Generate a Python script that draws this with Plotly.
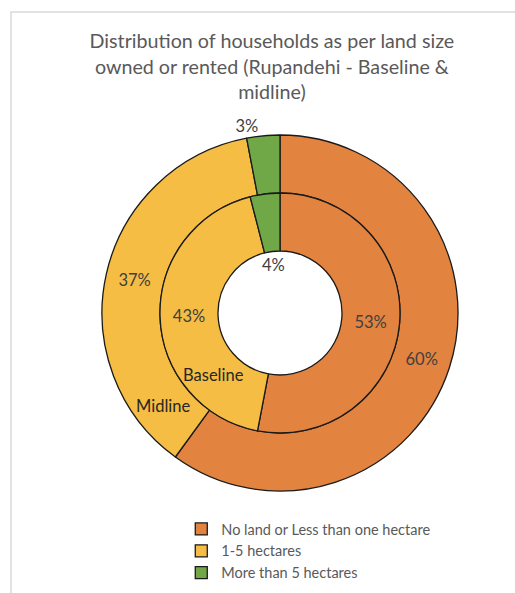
import plotly.graph_objects as go
import math

W, H = 515, 593

categories = ["No land or Less than one hectare", "1-5 hectares", "More than 5 hectares"]
midline = [60, 37, 3]
baseline = [53, 43, 4]
series_names = ["Baseline", "Midline"]
colors = ["#E2833F", "#F5BD43", "#71A847"]

title = ("Distribution of households as per land size<br>"
         "owned or rented (Rupandehi - Baseline &<br>midline)")

FONT = "Lato"
TXT = "#595959"
VAL = "#404040"

# ring geometry in pixels
cx, cy = 280, 313
r_out, r_mid, r_hole = 178, 120, 62


def dom(r):
    return dict(x=[(cx - r) / W, (cx + r) / W],
                y=[(H - cy - r) / H, (H - cy + r) / H])


line = dict(color="#1a1a1a", width=1.3)

fig = go.Figure()
fig.add_trace(go.Pie(
    labels=categories, values=midline, name=series_names[1],
    domain=dom(r_out), hole=r_mid / r_out, sort=False, direction="clockwise",
    rotation=0, marker=dict(colors=colors, line=line),
    texttemplate=["%{value}%", "%{value}%", "%{value}%"],
    textposition=["inside", "inside", "outside"],
    insidetextorientation="horizontal",
    textfont=dict(family=FONT, size=16.5, color=VAL),
    hoverinfo="label+value", showlegend=True,
))
fig.add_trace(go.Pie(
    labels=categories, values=baseline, name=series_names[0],
    domain=dom(r_mid), hole=r_hole / r_mid, sort=False, direction="clockwise",
    rotation=0, marker=dict(colors=colors, line=line),
    texttemplate=["%{value}%", "%{value}%", ""],
    textposition="inside",
    insidetextorientation="horizontal",
    textfont=dict(family=FONT, size=16.5, color=VAL),
    hoverinfo="label+value", showlegend=False,
))


def px2paper(x, y):
    return x / W, (H - y) / H


annotations = []
# baseline small-slice label sits just inside the hole, above centre
tot = sum(baseline)
start = sum(baseline[:2]) / tot * 360
mid_ang = math.radians(start + baseline[2] / tot * 180)
lx = cx + (r_hole - 14) * math.sin(mid_ang)
ly = cy - (r_hole - 14) * math.cos(mid_ang)
ax, ay = px2paper(lx, ly)
annotations.append(dict(x=ax, y=ay, xref="paper", yref="paper", showarrow=False,
                        xanchor="center", yanchor="middle",
                        text=f"{baseline[2]}%",
                        font=dict(family=FONT, size=16.5, color=VAL)))
# series names
for name, (x, y) in zip(series_names, [(213, 375), (163, 406)]):
    px, py = px2paper(x, y)
    annotations.append(dict(x=px, y=py, xref="paper", yref="paper", showarrow=False,
                            xanchor="center", yanchor="middle",
                            text=name, font=dict(family=FONT, size=16.5, color="#262626")))

fig.update_layout(
    width=W, height=H,
    margin=dict(l=0, r=0, t=0, b=0),
    paper_bgcolor="white", plot_bgcolor="white",
    title=dict(text=title, x=0.528, xanchor="center", y=(H - 48) / H, yanchor="top",
               font=dict(family=FONT, size=19.7, color=TXT)),
    legend=dict(x=0.352, y=(H - 513) / H, xanchor="left", yanchor="top",
                font=dict(family=FONT, size=14.5, color=TXT),
                traceorder="normal", itemwidth=30, tracegroupgap=0),
    annotations=annotations,
    shapes=[dict(type="rect", xref="paper", yref="paper",
                 x0=11 / W, x1=1.05, y0=-0.05, y1=(H - 12) / H,
                 line=dict(color="#D9D9D9", width=1.5), fillcolor="rgba(0,0,0,0)")],
)

fig.write_html("out.html")
